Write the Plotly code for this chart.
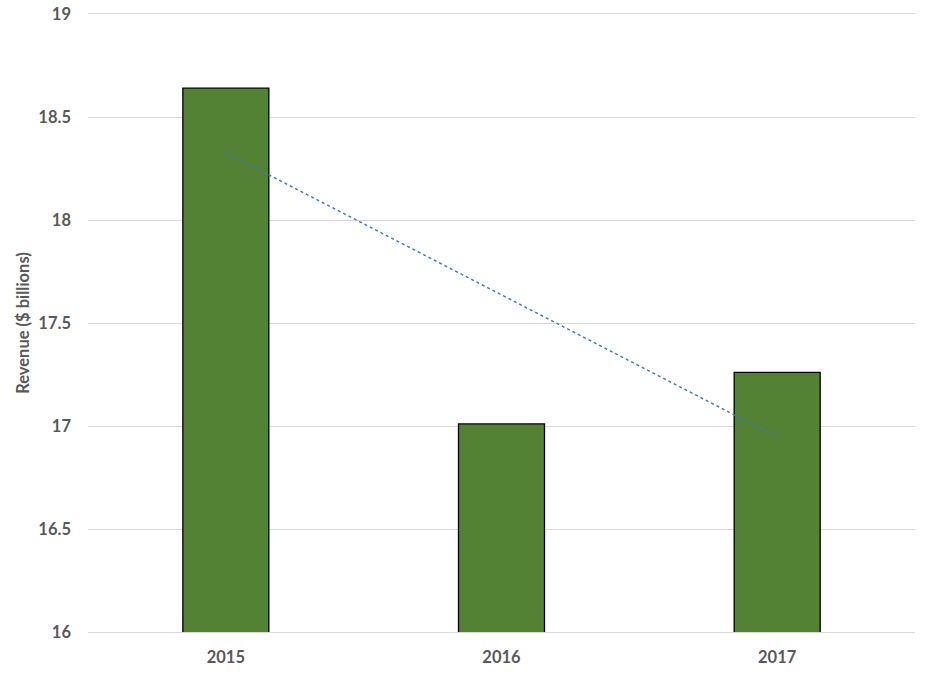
import numpy as np
import plotly.graph_objects as go

# data
years = ["2015", "2016", "2017"]
revenue = [18.64, 17.01, 17.26]

# linear trendline (like Excel's) fitted on category index
idx = np.arange(len(years))
slope, intercept = np.polyfit(idx, revenue, 1)
trend = slope * idx + intercept

fig = go.Figure()
fig.add_trace(go.Bar(
    x=years, y=revenue,
    marker=dict(color="#548235", line=dict(color="#000000", width=1.3)),
    width=0.312,
    showlegend=False,
))
fig.add_trace(go.Scatter(
    x=years, y=trend, mode="lines",
    line=dict(color="#4472C4", width=1.5, dash="dot"),
    showlegend=False,
))

fig.update_layout(
    width=930, height=677,
    margin=dict(l=88, r=15, t=14, b=45),
    plot_bgcolor="white", paper_bgcolor="white",
    font=dict(family="Lato", color="#595959"),
    xaxis=dict(
        range=[-0.5, 2.5], showgrid=False, zeroline=False, automargin=False,
        showline=True, mirror=True, linecolor="#d9d9d9", linewidth=1,
        ticks="", ticklabelstandoff=10,
        tickfont=dict(size=16.5, family="Lato", weight="bold"),
    ),
    yaxis=dict(
        range=[16, 19], dtick=0.5, showgrid=True, gridcolor="#d9d9d9", gridwidth=1,
        zeroline=False, showline=False, ticks="", ticklabelstandoff=16,
        automargin=False,
        tickfont=dict(size=16.5, family="Lato", weight="bold"),
        title=dict(text="Revenue ($ billions)", standoff=4,
                   font=dict(size=16.5, family="Lato", weight="bold", color="#595959")),
    ),
)

fig.write_html("out.html", post_script="document.body.style.margin='0';",
               config={"displayModeBar": False})
